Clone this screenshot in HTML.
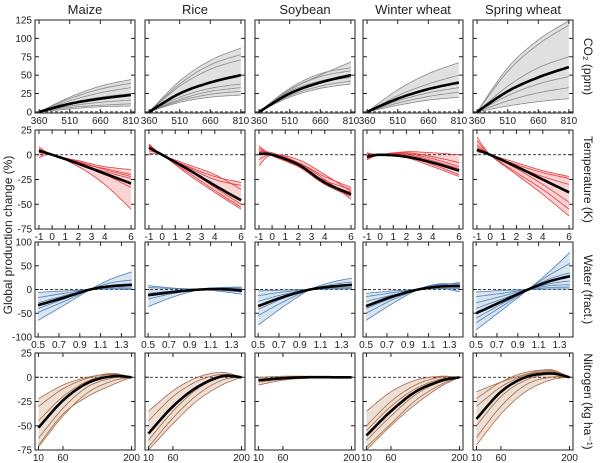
<!DOCTYPE html>
<html><head><meta charset="utf-8"><style>
body{margin:0;background:#fff;}
svg{display:block;font-family:"Liberation Sans",sans-serif;}
</style></head><body>
<svg id="chart" width="600" height="463" viewBox="0 0 600 463" xmlns="http://www.w3.org/2000/svg"></svg>
<script>
const crops = ["Maize","Rice","Soybean","Winter wheat","Spring wheat"];
const rowLabels = ["CO\u2082 (ppm)","Temperature (K)","Water (fract.)","Nitrogen (kg ha\u207B\u00B9)"];
const xSamples = [[360,510,660,810],[-1,0,2,4,6],[0.5,0.75,1.0,1.2,1.4],[10,60,110,160,200]];
const xTicks = [[360,510,660,810],[-1,0,1,2,3,4,6],[0.5,0.7,0.9,1.1,1.3],[10,60,200]];
const xTickLabels = [["360","510","660","810"],["-1","0","1","2","3","4","6"],["0.5","0.7","0.9","1.1","1.3"],["10","60","200"]];
const yTicks = [[0,25,50,75,100,125],[-75,-50,-25,0,25],[-100,-50,0,50,100],[-75,-50,-25,0,25]];
// CO2 row
const co2Mean = [[0,11,18,23],[0,25,40,50],[0,25,40,50],[0,18,31,40],[0,28,47,61]];
const co2Lines = [
 [[0,20,35,44],[0,18,31,39],[0,15,26,33],[0,12,20,25],[0,8,13,16],[0,6,9,11],[0,4,7,8]],
 [[0,42,70,87],[0,38,64,78],[0,35,58,71],[0,20,32,38],[0,17,28,33],[0,15,24,28],[0,13,20,23]],
 [[0,30,50,68],[0,32,52,60],[0,30,48,56],[0,28,42,50],[0,25,40,47],[0,22,35,42],[0,20,32,38]],
 [[0,30,52,67],[0,22,38,50],[0,18,31,40],[0,15,26,33],[0,12,21,27],[0,9,16,20]],
 [[0,60,98,124],[0,55,92,118],[0,35,60,75],[0,22,38,48],[0,15,26,33],[0,8,14,18]]];
// Temperature row
const tempMean = [[4,0,-9,-19,-29],[7,0,-15,-31,-46],[1,0,-10,-28,-40],[-2,0,-2,-8,-16],[5,0,-12,-25,-38]];
const tempLines = [
 [[8,0,-6,-12,-15],[5,0,-8,-14,-20],[3,0,-10,-20,-33],[-3,0,-12,-30,-55],[6,0,-9,-17,-24],[2,0,-7,-15,-22]],
 [[11,0,-12,-22,-28],[9,0,-13,-25,-31],[7,0,-20,-38,-55],[4,0,-18,-36,-53],[1,0,-15,-33,-50],[10,0,-10,-20,-35]],
 [[9,0,-8,-22,-33],[-11,0,-5,-20,-37],[3,2,-8,-25,-45],[5,0,-12,-30,-42],[-5,0,-10,-28,-38],[7,-1,-12,-26,-35]],
 [[-5,0,3,2,0],[2,0,2,-2,-8],[-3,0,0,-6,-14],[1,0,-3,-12,-22],[-1,0,-2,-10,-20],[-4,0,1,-4,-12]],
 [[18,0,-20,-40,-62],[14,0,-18,-35,-55],[8,0,-10,-18,-24],[3,0,-8,-16,-22],[10,0,-14,-30,-48],[6,0,-12,-22,-30]]];
// Water row
const waterMean = [[-33,-17,0,7,10],[-12,-5,0,1,-2],[-35,-15,0,6,10],[-35,-15,0,6,7],[-50,-25,0,17,28]];
const waterLines = [
 [[-65,-33,0,22,37],[-48,-25,0,14,20],[-40,-20,0,8,10],[-28,-13,0,5,5],[-17,-8,0,3,2],[-6,-3,0,1,0]],
 [[-36,-15,0,4,5],[8,3,0,-4,-10],[4,2,0,-2,-5],[-20,-8,0,3,5],[-8,-3,0,2,2]],
 [[-75,-35,0,15,24],[-55,-25,0,10,16],[-42,-18,0,6,8],[-25,-10,0,4,4],[-13,-5,0,2,2],[-3,-1,0,1,1]],
 [[-65,-30,0,12,10],[-50,-22,0,10,12],[-40,-18,0,8,15],[-25,-12,0,5,5],[-15,-7,0,3,-5],[-8,-3,0,2,2]],
 [[-85,-43,0,37,78],[-70,-35,0,30,55],[-60,-30,0,22,35],[-40,-20,0,12,18],[-28,-14,0,8,10],[-15,-8,0,4,5],[-5,-2,0,1,1]]];
// Nitrogen row
const nitroMean = [[-52,-24,-6,1,0],[-58,-30,-10,1,0],[-3,-1,0,0,0],[-60,-35,-15,-4,0],[-43,-15,0,4,0]];
const nitroLines = [
 [[-22,-8,0,3,0],[-30,-12,-1,4,0],[-45,-20,-4,3,0],[-63,-32,-10,-1,0],[-72,-40,-16,-4,0],[-70,-38,-20,-8,0]],
 [[-35,-14,0,5,0],[-45,-20,-4,3,0],[-65,-35,-12,0,0],[-72,-42,-18,-3,0],[-75,-48,-24,-8,0]],
 [[-8,-3,-1,0,0],[0,1,1,0,0],[-5,-2,0,0,0]],
 [[-35,-15,-3,1,0],[-50,-25,-8,0,0],[-65,-40,-18,-5,0],[-72,-48,-24,-8,0],[-75,-50,-28,-10,0],[-55,-30,-12,-2,0]],
 [[-15,-5,3,8,0],[-22,-5,5,7,0],[-30,-10,2,6,0],[-50,-20,-3,3,0],[-62,-30,-8,0,0],[-70,-38,-15,-3,0]]];

const means = [co2Mean,tempMean,waterMean,nitroMean];
const lines = [co2Lines,tempLines,waterLines,nitroLines];
const xDomains = [[340,830],[-1.3,6.3],[0.47,1.43],[3,207]];
const yDomains = [[-1.5,125],[-75,25],[-100,100],[-75,25]];
const lineCol = ["#8a8a8a","#e8393c","#4f7fb5","#a86a44"];
const fillCol = ["#e0e0e0","#f8d4d4","#d8e5f0","#eddfd5"];
const colX = [35,145,255,363,473];
const PW = 100;
const rowY = [[20,113],[130,229],[242,337],[353,450]];

const NS="http://www.w3.org/2000/svg";
const svg=document.getElementById('chart');
function mk(tag,attrs,parent){const e=document.createElementNS(NS,tag);for(const k in attrs)e.setAttribute(k,attrs[k]);(parent||svg).appendChild(e);return e;}
function sx(r,c,v){const d=xDomains[r];return colX[c]+(v-d[0])/(d[1]-d[0])*PW;}
function sy(r,v){const d=yDomains[r];const [t,b]=rowY[r];return b-(v-d[0])/(d[1]-d[0])*(b-t);}
// Catmull-Rom sample of a series at N points in sample-index space
function smooth(xs,ys,N){
  const out=[];const n=xs.length;
  for(let k=0;k<=N;k++){
    const t=k/N*(n-1);let i=Math.min(Math.floor(t),n-2);const u=t-i;
    const p0=ys[Math.max(i-1,0)],p1=ys[i],p2=ys[i+1],p3=ys[Math.min(i+2,n-1)];
    const x0=xs[Math.max(i-1,0)],x1=xs[i],x2=xs[i+1],x3=xs[Math.min(i+2,n-1)];
    const cr=(a,b,c,d)=>0.5*((2*b)+(-a+c)*u+(2*a-5*b+4*c-d)*u*u+(-a+3*b-3*c+d)*u*u*u);
    out.push([cr(x0,x1,x2,x3),cr(p0,p1,p2,p3)]);
  }
  return out;
}
const N=40;
for(let r=0;r<4;r++){
  for(let c=0;c<5;c++){
    const g=mk('g',{});
    
    
    const xs=xSamples[r];
    const sm=lines[r][c].map(l=>smooth(xs,l,N));
    const mn=smooth(xs,means[r][c],N);
    // envelope
    let up=[],lo=[];
    for(let k=0;k<=N;k++){let a=Infinity,b=-Infinity;sm.concat([mn]).forEach(s=>{a=Math.min(a,s[k][1]);b=Math.max(b,s[k][1]);});
      const xv=sm[0][k][0];up.push([xv,b]);lo.push([xv,a]);}
    const pts=up.concat(lo.reverse()).map(p=>sx(r,c,p[0]).toFixed(1)+','+sy(r,p[1]).toFixed(1)).join(' ');
    const band=mk('polygon',{points:pts,fill:fillCol[r],stroke:'none'},g);
    
    
    const z=mk('line',{x1:colX[c],x2:colX[c]+PW,y1:sy(r,0),y2:sy(r,0),stroke:'#000','stroke-width':0.8,'stroke-dasharray':'3,2'},g);
    
    
    sm.forEach(s=>{
      const p=mk('polyline',{points:s.map(q=>sx(r,c,q[0]).toFixed(1)+','+sy(r,q[1]).toFixed(1)).join(' '),fill:'none',stroke:lineCol[r],'stroke-width':0.8},g);
      
      
    });
    const m=mk('polyline',{points:mn.map(q=>sx(r,c,q[0]).toFixed(1)+','+sy(r,q[1]).toFixed(1)).join(' '),fill:'none',stroke:'#000','stroke-width':2.6},g);
    
    
    const [t,b]=rowY[r];
    const fr=mk('rect',{x:colX[c],y:t,width:PW,height:b-t,fill:'none',stroke:'#222','stroke-width':1},g);
    
    
    // ticks
    xTicks[r].forEach((v,i)=>{
      const X=sx(r,c,v);
      mk('line',{x1:X,x2:X,y1:b,y2:b-4,stroke:'#222','stroke-width':1},g);
      mk('line',{x1:X,x2:X,y1:t,y2:t+4,stroke:'#222','stroke-width':1},g);
      const tl=mk('text',{x:X,y:b+11,'font-size':10,'text-anchor':'middle',fill:'#222'},g);
      tl.textContent=xTickLabels[r][i];
      
      
    });
    yTicks[r].forEach(v=>{
      const Y=sy(r,v);
      mk('line',{x1:colX[c],x2:colX[c]+4,y1:Y,y2:Y,stroke:'#222','stroke-width':1},g);
      mk('line',{x1:colX[c]+PW,x2:colX[c]+PW-4,y1:Y,y2:Y,stroke:'#222','stroke-width':1},g);
      if(c===0){
        const tl=mk('text',{x:colX[c]-3,y:Y+3.5,'font-size':10,'text-anchor':'end',fill:'#222'},g);
        tl.textContent=String(v);
        
        
      }
    });
  }
  const [t,b]=rowY[r];
  const rl=mk('text',{x:0,y:0,'font-size':12,'text-anchor':'middle',fill:'#222',transform:`translate(584,${(t+b)/2}) rotate(90)`});
  rl.textContent=rowLabels[r];
  
  
}
crops.forEach((n,c)=>{
  const t=mk('text',{x:colX[c]+PW/2,y:14,'font-size':13,'text-anchor':'middle',fill:'#222'});
  t.textContent=n;
  
  
});
const yl=mk('text',{x:0,y:0,'font-size':12,'text-anchor':'middle',fill:'#222',transform:'translate(12,235) rotate(-90)'});
yl.textContent='Global production change (%)';


</script>
</body></html>
